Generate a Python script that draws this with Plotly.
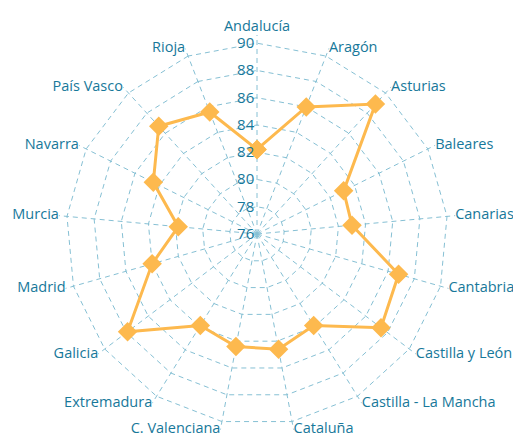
import plotly.graph_objects as go

regiones = [
    "Andalucía", "Aragón", "Asturias", "Baleares", "Canarias", "Cantabria",
    "Castilla y León", "Castilla - La Mancha", "Cataluña", "C. Valenciana",
    "Extremadura", "Galicia", "Madrid", "Murcia", "Navarra", "País Vasco", "Rioja",
]
valores = [82.2, 86.0, 88.9, 83.1, 83.0, 86.8, 87.4, 83.9, 84.6, 84.4,
           83.9, 87.9, 84.0, 81.8, 84.5, 86.7, 85.6]
ticks_r = [76, 78, 80, 82, 84, 86, 88, 90]

texto = "#17789a"
rejilla = "#86c0d4"
naranja = "#fdb94e"

# the range goes past 90 so the dashed 90 ring is drawn and the
# region names (placed on the range edge) sit just outside it
r_max = 90.6

n = len(regiones)
posiciones = []
for i in range(n):
    ang = 360 * i / n
    if ang == 0:
        posiciones.append("top center")
    elif ang < 180:
        posiciones.append("middle right")
    else:
        posiciones.append("middle left")

fig = go.Figure()
fig.add_trace(go.Scatterpolar(
    r=valores + valores[:1],
    theta=regiones + regiones[:1],
    mode="lines+markers",
    line=dict(color=naranja, width=3),
    marker=dict(symbol="diamond", size=15, color=naranja),
    showlegend=False,
    hoverinfo="skip",
))
fig.add_trace(go.Scatterpolar(
    r=[r_max] * n,
    theta=regiones,
    mode="text",
    text=regiones,
    textposition=posiciones,
    textfont=dict(size=14.5, color=texto),
    cliponaxis=False,
    showlegend=False,
    hoverinfo="skip",
))

fig.update_layout(
    width=513, height=434,
    margin=dict(l=58, r=57, t=35, b=1),
    paper_bgcolor="white",
    font=dict(family="Open Sans", color=texto, size=14),
    polar=dict(
        bgcolor="white",
        gridshape="linear",
        angularaxis=dict(
            direction="clockwise", rotation=90,
            showline=False, showticklabels=False, ticks="",
            gridcolor=rejilla, griddash="5px,4px", gridwidth=1.2,
        ),
        radialaxis=dict(
            range=[76, r_max], tickvals=ticks_r,
            angle=90, tickangle=90, side="counterclockwise",
            showline=False, ticks="",
            gridcolor=rejilla, griddash="5px,4px", gridwidth=1.2,
            tickfont=dict(size=15, color=texto),
        ),
    ),
)

fig.write_html("out.html", config={"displayModeBar": False},
               post_script="document.body.style.margin='0';")
